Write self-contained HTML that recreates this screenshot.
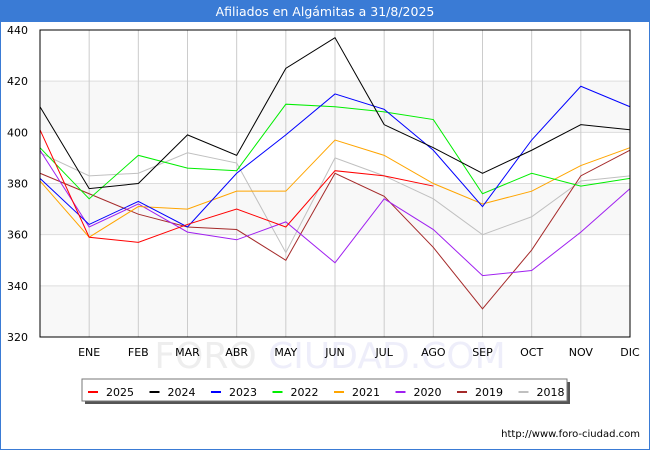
<!DOCTYPE html>
<html><head><meta charset="utf-8"><style>
body{margin:0;background:#fff;}
svg{display:block;font-family:"DejaVu Sans","Liberation Sans",sans-serif;}
</style></head><body>
<svg id="chart" width="650" height="450" viewBox="0 0 650 450">
<rect x="0.5" y="0.5" width="649" height="449" fill="#fff" stroke="#3a7bd5"/>
<rect x="0" y="0" width="650" height="22" fill="#3a7bd5"/>
<text x="325" y="16" text-anchor="middle" fill="#fff" font-size="12.5">Afiliados en Algámitas a 31/8/2025</text>
<text x="330" y="368" text-anchor="middle" font-size="36" fill="#eeeeee">FORO <tspan fill="#eeeefa">CIUDAD.COM</tspan></text>
<g id="grid"></g>
<g id="series"></g>
<rect x="40" y="30" width="590" height="307" fill="none" stroke="#000"/>
<g id="axes"></g>
<rect x="85" y="382" width="485" height="22" fill="#555"/>
<rect x="82" y="379" width="485" height="22" fill="#fff" stroke="#777"/>
<g id="legend"></g>
<text x="640" y="437" text-anchor="end" font-size="10" fill="#000">http://www.foro-ciudad.com</text>
</svg>
<script>
const months = ["","ENE","FEB","MAR","ABR","MAY","JUN","JUL","AGO","SEP","OCT","NOV","DIC"];
const yTicks = [320,340,360,380,400,420,440];
const years = ["2025","2024","2023","2022","2021","2020","2019","2018"];
const colors = ["#ff0000","#000000","#0000ff","#00ee00","#ffa500","#a020f0","#a52a2a","#c0c0c0"];
const s2025 = [401,359,357,364,370,363,385,383,379];
const s2024 = [410,378,380,399,391,425,437,403,394,384,393,403,401];
const s2023 = [382,364,373,363,384,399,415,409,393,371,397,418,410];
const s2022 = [394,374,391,386,385,411,410,408,405,376,384,379,382];
const s2021 = [381,359,371,370,377,377,397,391,380,372,377,387,394];
const s2020 = [393,363,372,361,358,365,349,374,362,344,346,361,378];
const s2019 = [384,376,368,363,362,350,384,375,355,331,354,383,393];
const s2018 = [392,383,384,392,388,353,390,383,374,360,367,381,383];
const seriesData = [s2025,s2024,s2023,s2022,s2021,s2020,s2019,s2018];

const NS="http://www.w3.org/2000/svg";
const X0=40,X1=630,Y0=30,Y1=337,YMIN=320,YMAX=440;
function xs(i){return X0+i*(X1-X0)/12;}
function ys(v){return Y1-(v-YMIN)*(Y1-Y0)/(YMAX-YMIN);}
function mk(tag,attrs,parent){const e=document.createElementNS(NS,tag);for(const k in attrs)e.setAttribute(k,attrs[k]);parent.appendChild(e);return e;}
const grid=document.getElementById('grid'),axes=document.getElementById('axes'),ser=document.getElementById('series'),leg=document.getElementById('legend');
for(let i=0;i<yTicks.length-1;i++){
  if(i%2===0){const b=mk('rect',{x:X0,y:ys(yTicks[i+1]),width:X1-X0,height:ys(yTicks[i])-ys(yTicks[i+1]),fill:'#f8f8f8'},grid);
  
  }
}
yTicks.forEach(v=>{
  const l=mk('line',{x1:X0,x2:X1,y1:ys(v),y2:ys(v),stroke:'#dddddd'},grid);
  
  
  const t=mk('text',{x:X0-12,y:ys(v)+4,'text-anchor':'end','font-size':'11',fill:'#000'},axes);
  t.textContent=v;
  
  
});
months.forEach((m,i)=>{
  if(i>0){const l=mk('line',{x1:xs(i),x2:xs(i),y1:Y0,y2:Y1,stroke:'#cccccc'},grid);
  
  
  const t=mk('text',{x:xs(i),y:356,'text-anchor':'middle','font-size':'11',fill:'#000'},axes);
  t.textContent=m;
  
  }
});
for(let k=seriesData.length-1;k>=0;k--){
  const d=seriesData[k];
  const p=mk('polyline',{points:d.map((v,i)=>xs(i)+','+ys(v)).join(' '),fill:'none',stroke:colors[k],'stroke-width':'1'},ser);
  
  
}
years.forEach((y,k)=>{
  const x=88+k*61.5;
  const l=mk('line',{x1:x,x2:x+10,y1:392,y2:392,stroke:colors[k],'stroke-width':'2'},leg);
  
  
  const t=mk('text',{x:x+18,y:396,'font-size':'11',fill:'#000'},leg);
  t.textContent=y;
  
  
});
</script>
</body></html>
